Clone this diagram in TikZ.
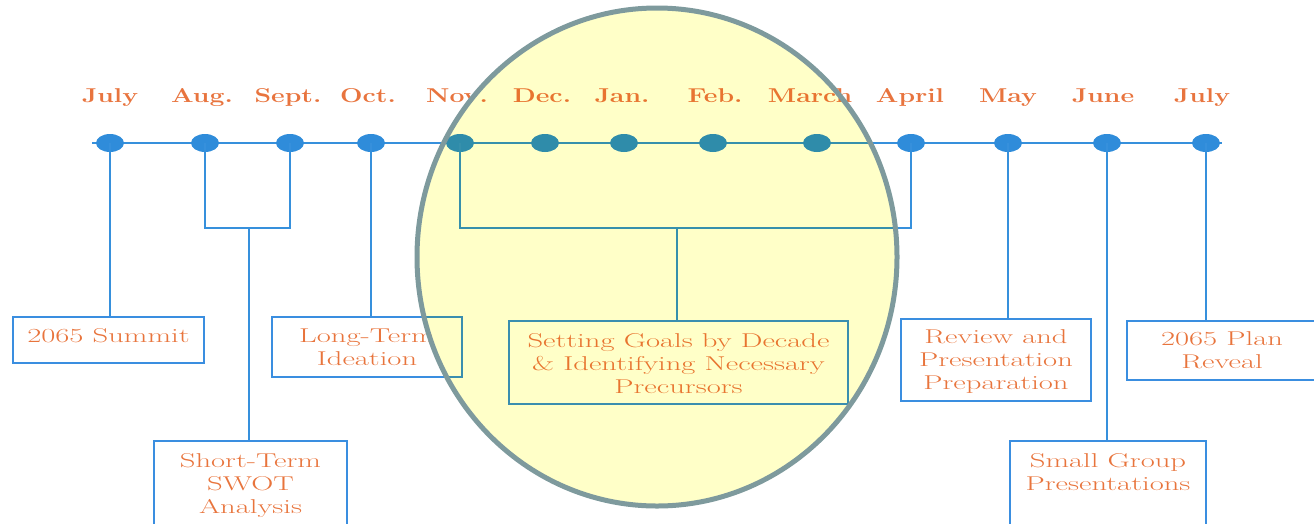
\documentclass[tikz,border=0pt]{standalone}
\usepackage{fontspec}
\usetikzlibrary{shapes.geometric}
\definecolor{tlblue}{HTML}{3690DC}
\definecolor{dotblue}{HTML}{2F8CDA}
\definecolor{boxblue}{HTML}{3A8EE0}
\definecolor{mon}{HTML}{E8743E}
\definecolor{txt}{HTML}{E8743C}
\definecolor{hlfill}{RGB}{255,255,200}
\definecolor{hlborder}{HTML}{7E9A9D}
\newcommand{\mw}[1]{\scalebox{1.33}[1]{#1}}
\newcommand{\bw}[1]{\scalebox{1.53}[1]{#1}}
\tikzset{
  tl/.style={draw=tlblue, line width=1.8pt},
  dot/.style={ellipse, fill=dotblue, inner sep=0pt, minimum width=28pt, minimum height=18pt},
  month/.style={text=mon, anchor=base, inner sep=0pt,
    font=\fontsize{20}{24}\selectfont\bfseries},
  box/.style={draw=boxblue, line width=2pt, anchor=north west, inner sep=0pt},
  boxtext/.style={text=txt, anchor=north, inner sep=0pt, align=center,
    font=\fontsize{20}{23}\selectfont},
}
\begin{document}
\begin{tikzpicture}[x=1pt,y=-1pt]
\useasboundingbox (0,0) rectangle (1314,523);
% timeline
\coordinate (t0) at (92,143);
\coordinate (t1) at (1222,143);
\draw[tl] (t0) -- (t1);
% months
\foreach \n/\x/\lx/\m in {1/110/110/July,2/205/202/Aug.,3/290/288/Sept.,4/371/368/Oct.,5/460/457/Nov.,6/545/542/Dec.,7/624/622/Jan.,8/713/715/Feb.,9/817/810/March,10/911/910/April,11/1008/1008/May,12/1107/1103/June,13/1206/1202/July}{
  \node[month] (m\n) at (\lx,102.5) {\mw{\m}};
}
% boxes
\node[box, minimum width=191pt, minimum height=46pt] (summit) at (12,316) {};
\node[boxtext] (summitT) at ([yshift=-12pt]summit.north) {\bw{2065 Summit}};
\node[box, minimum width=193pt, minimum height=90pt] (swot) at (153,440) {};
\node[boxtext] (swotT) at ([yshift=-13pt]swot.north) {\bw{Short-Term}\\\bw{SWOT}\\\bw{Analysis}};
\node[box, minimum width=190pt, minimum height=60pt] (ideation) at (271,316) {};
\node[boxtext] (ideationT) at ([yshift=-12.5pt]ideation.north) {\bw{Long-Term}\\\bw{Ideation}};
\node[box, minimum width=339pt, minimum height=83pt] (goals) at (508,320) {};
\node[boxtext] (goalsT) at ([yshift=-13pt]goals.north) {\bw{Setting Goals by Decade}\\\bw{\& Identifying Necessary}\\\bw{Precursors}};
\node[box, minimum width=190pt, minimum height=82pt] (review) at (900,318) {};
\node[boxtext] (reviewT) at ([yshift=-11.5pt]review.north) {\bw{Review and}\\\bw{Presentation}\\\bw{Preparation}};
\node[box, minimum width=196pt, minimum height=90pt] (small) at (1009,440) {};
\node[boxtext] (smallT) at ([yshift=-13pt]small.north) {\bw{Small Group}\\\bw{Presentations}};
\node[box, minimum width=190pt, minimum height=59pt] (plan) at (1126,320) {};
\node[boxtext] (planT) at ([yshift=-11.5pt]plan.north) {\bw{2065 Plan}\\\bw{Reveal}};
% dots
\foreach \n/\x in {1/110,2/205,3/290,4/371,5/460,6/545,7/624,8/713,9/817,10/911,11/1008,12/1107,13/1206}{
  \node[dot] (d\n) at (\x,143) {};
}
% connectors
\coordinate (j1) at (249,228);
\coordinate (j2) at (677,228);
\draw[tl] (d1.center) -- (d1 |- summit.north);
\draw[tl] (d2.center) |- (j1) -| (d3.center);
\draw[tl] (j1) -- (j1 |- swot.north);
\draw[tl] (d4.center) -- (d4 |- ideation.north);
\draw[tl] (d5.center) |- (j2) -| (d10.center);
\draw[tl] (j2) -- (j2 |- goals.north);
\draw[tl] (d11.center) -- (d11 |- review.north);
\draw[tl] (d12.center) -- (d12 |- small.north);
\draw[tl] (d13.center) -- (d13 |- plan.north);
% highlight
\begin{scope}[blend mode=multiply]
\fill[hlfill] (657,257) ellipse [x radius=240, y radius=249];
\end{scope}
\draw[hlborder, line width=5pt] (657,257) ellipse [x radius=240, y radius=249];
\end{tikzpicture}
\end{document}
